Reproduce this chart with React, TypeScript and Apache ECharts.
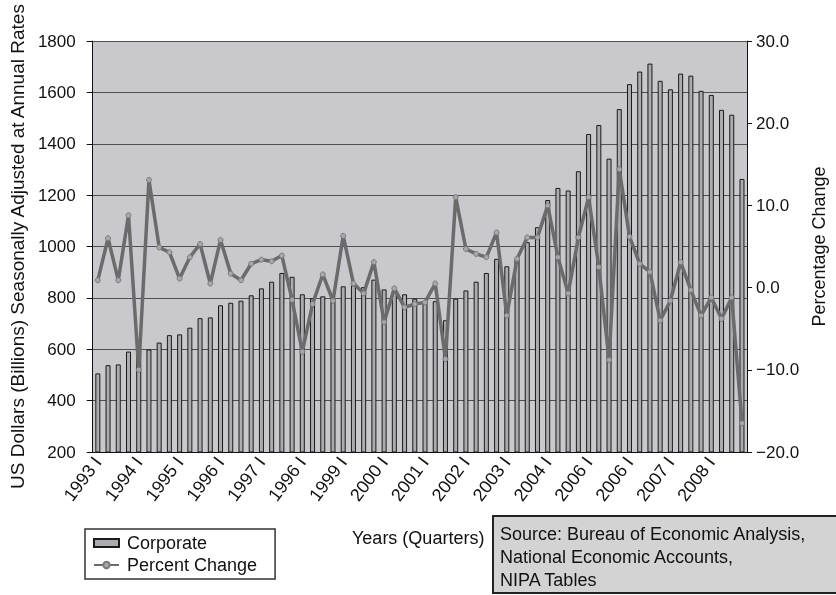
import React, { useEffect, useRef } from "react";
import * as echarts from "echarts";

const years = [1993, 1994, 1995, 1996, 1997, 1998, 1999, 2000, 2001, 2002, 2003, 2004, 2005, 2006, 2007, 2008];
const quarterNames = ["I", "II", "III", "IV"];
// tick labels exactly as printed on the reference
const tickLabels = ["1993 I", "1994 I", "1995 I", "1996 I", "1997 I", "1996 I", "1999 I", "2000 I", "2001 I", "2002 I", "2003 I", "2004 I", "2006 I", "2006 I", "2007 I", "2008 I"];

const corporate = [
  506, 538, 541, 591, 596, 599, 626, 655, 658, 684, 721, 724, 771, 781, 789, 810,
  837, 863, 897, 882, 814, 798, 806, 797, 845, 849, 842, 871, 833, 830, 814, 797,
  788, 787, 713, 797, 829, 863, 897, 952, 923, 950, 1017, 1075, 1181, 1228, 1218, 1293,
  1438, 1473, 1342, 1535, 1632, 1681, 1712, 1645, 1612, 1673, 1665, 1606, 1590, 1532, 1513, 1263,
];
const percentChange = [
  0.9, 6.0, 0.9, 8.8, -10.0, 13.1, 4.9, 4.3, 1.1, 3.7, 5.3, 0.5, 5.8, 1.7, 0.9, 2.9,
  3.4, 3.2, 3.9, -1.5, -7.8, -2.0, 1.6, -1.6, 6.3, 0.5, -0.7, 3.1, -4.2, -0.1, -2.4, -2.0,
  -1.8, 0.5, -8.7, 11.0, 4.7, 4.1, 3.7, 6.7, -3.4, 3.5, 6.1, 6.1, 10.0, 3.7, -0.7, 6.1,
  11.0, 2.5, -8.8, 14.4, 6.2, 2.9, 1.9, -4.0, -1.6, 3.1, -0.3, -3.4, -1.2, -3.8, -1.2, -16.5,
];
const sourceLines = ["Source: Bureau of Economic Analysis,", "National Economic Accounts,", "NIPA Tables"];

const categories: string[] = [];
years.forEach((y) => quarterNames.forEach((q) => categories.push(`${y} ${q}`)));

const FONT = "'Liberation Sans', Arial, Helvetica, sans-serif";

export default function App() {
  const ref = useRef<HTMLDivElement>(null);
  useEffect(() => {
    if (!ref.current) return;
    const chart = echarts.init(ref.current, null, { renderer: "svg" });
    chart.setOption({
      animation: false,
      textStyle: { fontFamily: FONT },
      grid: {
        left: 86, right: 80, top: 41, bottom: 143,
        show: true, backgroundColor: "#c9c9cd", borderWidth: 0,
      },
      legend: {
        orient: "vertical",
        left: 85, top: 529,
        padding: [5, 18, 5, 8],
        itemGap: 4,
        itemWidth: 25, itemHeight: 8,
        backgroundColor: "#ffffff",
        borderColor: "#333333", borderWidth: 1.5,
        textStyle: { fontSize: 18, color: "#111", fontFamily: FONT, padding: [0, 0, 0, 3] },
        data: [{ name: "Corporate", icon: "rect" }, { name: "Percent Change" }],
      },
      xAxis: {
        type: "category",
        data: categories,
        boundaryGap: true,
        axisLine: { onZero: false, lineStyle: { color: "#111", width: 1 } },
        axisTick: { interval: 0, length: 5, lineStyle: { color: "#111" } },
        axisLabel: {
          interval: 3,
          rotate: 53,
          margin: 7,
          fontSize: 18,
          color: "#111",
          fontFamily: FONT,
          formatter: (_v: string, i: number) => tickLabels[Math.floor(i / 4)] ?? "",
        },
      },
      yAxis: [
        {
          type: "value",
          min: 200, max: 1800, interval: 200,
          name: "US Dollars (Billions) Seasonally Adjusted at Annual Rates",
          nameLocation: "middle",
          nameGap: 64,
          nameTextStyle: { fontSize: 19, color: "#111", fontFamily: FONT },
          axisLine: { show: true, lineStyle: { color: "#111" } },
          axisTick: { show: true, length: 6, lineStyle: { color: "#111" } },
          axisLabel: {
            fontSize: 17, color: "#111", margin: 17, fontFamily: FONT,
            formatter: (v: number) => String(v),
          },
          splitLine: { show: true, lineStyle: { color: "#505050", width: 1.2 } },
        },
        {
          type: "value",
          min: -20, max: 30, interval: 10,
          position: "right",
          name: "Percentage Change",
          nameLocation: "middle",
          nameGap: 58,
          nameTextStyle: { fontSize: 18, color: "#111", fontFamily: FONT },
          axisLine: { show: true, lineStyle: { color: "#111" } },
          axisTick: { show: true, length: 5, lineStyle: { color: "#111" } },
          axisLabel: {
            fontSize: 17, color: "#111", margin: 9, fontFamily: FONT,
            formatter: (v: number) => (v < 0 ? "\u2212" + Math.abs(v).toFixed(1) : v.toFixed(1)),
          },
          splitLine: { show: false },
        },
      ],
      series: [
        {
          name: "Corporate",
          type: "bar",
          yAxisIndex: 0,
          data: corporate,
          barWidth: 5,
          itemStyle: { color: "#acacb0", borderColor: "#1a1a1a", borderWidth: 1 },
        },
        {
          name: "Percent Change",
          type: "line",
          yAxisIndex: 1,
          data: percentChange,
          symbol: "circle",
          symbolSize: 5,
          lineStyle: { color: "#6b6b6b", width: 3.5 },
          itemStyle: { color: "#a8a8a8", borderColor: "#7a7a7a", borderWidth: 1 },
          z: 5,
        },
      ],
      graphic: [
        {
          type: "text",
          left: 352, top: 529,
          style: { text: "Years (Quarters)", fontSize: 18, fill: "#111", fontFamily: FONT },
        },
        {
          type: "group",
          children: [
            {
              type: "rect",
              shape: { x: 493, y: 516, width: 345, height: 77 },
              style: { fill: "#d3d3d3", stroke: "#222", lineWidth: 2 },
            },
            ...sourceLines.map((t, i) => ({
              type: "text",
              x: 500,
              y: 533.5 + i * 23,
              style: { text: t, fontSize: 18, fill: "#111", fontFamily: FONT, verticalAlign: "middle" },
            })),
          ],
        },
      ],
    });
    return () => chart.dispose();
  }, []);
  return <div ref={ref} style={{ position: "fixed", left: 0, top: 0, width: 836, height: 595 }} />;
}
